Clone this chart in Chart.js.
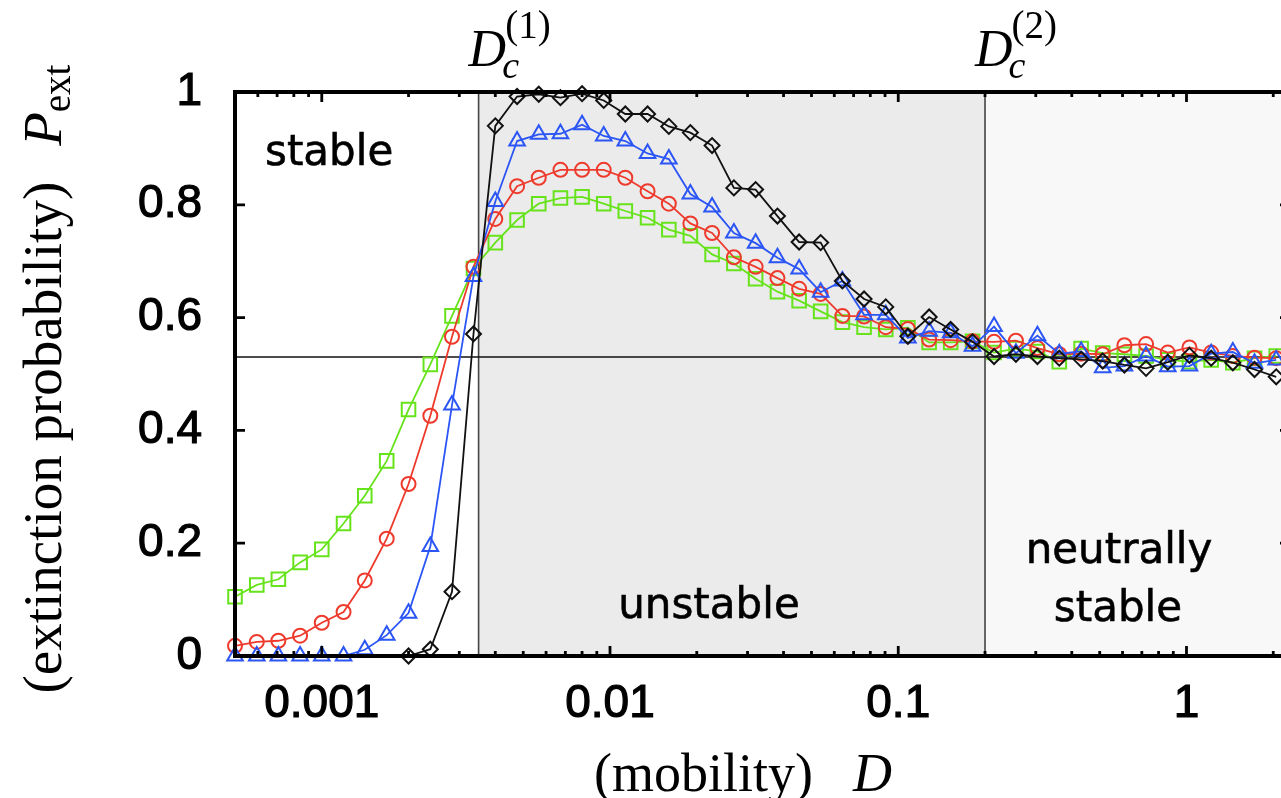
<!DOCTYPE html>
<html>
<head>
<meta charset="utf-8">
<title>Extinction probability vs mobility</title>
<script src="https://cdn.jsdelivr.net/npm/chart.js@4.4.1/dist/chart.umd.min.js"></script>
<style>
  html, body { margin: 0; padding: 0; background: #fff; overflow: hidden; }
  #wrap { width: 1300px; height: 798px; }
</style>
</head>
<body>
<div id="wrap"><canvas id="c" width="1300" height="798"></canvas></div>
<script>
// mobility D (log-spaced, factor 2^(1/4) between points)
const MOBILITY = [0.0005, 0.000595, 0.000707, 0.000841, 0.001, 0.00119, 0.00141, 0.00168,
  0.002, 0.00238, 0.00283, 0.00336, 0.004, 0.00476, 0.00566, 0.00673,
  0.008, 0.00951, 0.0113, 0.0135, 0.016, 0.019, 0.0226, 0.0269,
  0.032, 0.0381, 0.0453, 0.0538, 0.064, 0.0761, 0.0905, 0.108,
  0.128, 0.152, 0.181, 0.215, 0.256, 0.304, 0.362, 0.431,
  0.512, 0.609, 0.724, 0.861, 1.024, 1.218, 1.448, 1.722, 2.048];

// extinction probability P_ext, one array per curve
const P_GREEN = [0.105, 0.126, 0.136, 0.166, 0.189, 0.235, 0.284, 0.346, 0.437, 0.517,
  0.603, 0.687, 0.733, 0.773, 0.802, 0.812, 0.814, 0.802, 0.789, 0.777,
  0.756, 0.745, 0.712, 0.696, 0.669, 0.646, 0.630, 0.611, 0.592, 0.583,
  0.579, 0.582, 0.556, 0.556, 0.558, 0.538, 0.545, 0.540, 0.522, 0.545,
  0.537, 0.535, 0.532, 0.525, 0.522, 0.525, 0.520, 0.528, 0.532];

const P_RED = [0.018, 0.025, 0.027, 0.036, 0.059, 0.078, 0.134, 0.208, 0.305, 0.426,
  0.566, 0.690, 0.775, 0.833, 0.848, 0.862, 0.862, 0.862, 0.848, 0.824,
  0.802, 0.767, 0.750, 0.707, 0.690, 0.670, 0.651, 0.642, 0.603, 0.602,
  0.583, 0.580, 0.561, 0.560, 0.558, 0.557, 0.559, 0.546, 0.535, 0.536,
  0.535, 0.551, 0.553, 0.538, 0.547, 0.538, 0.532, 0.529, 0.528];

const P_BLUE = [0, 0, 0, 0, 0, 0, 0.011, 0.037, 0.076, 0.194,
  0.445, 0.673, 0.806, 0.913, 0.925, 0.926, 0.942, 0.922, 0.913, 0.891,
  0.881, 0.819, 0.796, 0.750, 0.732, 0.706, 0.686, 0.645, 0.665, 0.605,
  0.605, 0.564, 0.576, 0.573, 0.549, 0.584, 0.537, 0.568, 0.536, 0.540,
  0.511, 0.514, 0.532, 0.513, 0.514, 0.536, 0.539, 0.519, 0.525];

const P_BLACK = [null, null, null, null, null, null, null, null, 0.0, 0.012,
  0.114, 0.571, 0.940, 0.992, 0.996, 0.990, 0.997, 0.985, 0.961, 0.961,
  0.939, 0.928, 0.905, 0.830, 0.827, 0.780, 0.734, 0.733, 0.665, 0.633,
  0.619, 0.567, 0.601, 0.579, 0.557, 0.531, 0.535, 0.531, 0.528, 0.526,
  0.523, 0.516, 0.510, 0.521, 0.533, 0.528, 0.520, 0.508, 0.495];

// axes
const X_MIN = 0.0005, X_MAX = 2.25;
const X_TICKS = [0.001, 0.01, 0.1, 1];
const Y_TICKS = [0, 0.2, 0.4, 0.6, 0.8, 1];

// critical mobilities and the neutral level
const DC1 = 0.0035, DC2 = 0.2, P_STAR = 0.53;

function series(values, color, style, radius, order) {
  return {
    data: MOBILITY.map((d, i) => ({ x: d, y: values[i] })),
    borderColor: color,
    backgroundColor: 'rgba(0,0,0,0)',
    borderWidth: 1.8,
    pointStyle: style,
    pointRadius: radius,
    pointBorderColor: color,
    pointBackgroundColor: 'rgba(0,0,0,0)',
    pointBorderWidth: 2,
    tension: 0,
    spanGaps: false,
    clip: false,
    order: order
  };
}

// draws a run of differently styled text pieces on one baseline
function drawRich(ctx, parts, cx, baseY) {
  let total = 0;
  for (const p of parts) { ctx.font = p.font; p.w = p.gap != null ? p.gap : ctx.measureText(p.text).width; total += p.w; }
  let x = cx - total / 2;
  for (const p of parts) {
    if (p.text) { ctx.font = p.font; ctx.fillText(p.text, x, baseY + (p.dy || 0)); }
    x += p.w;
  }
}

const SERIF = '"Liberation Serif", "DejaVu Serif", serif';

const decor = {
  id: 'decor',
  beforeDatasetsDraw(chart) {
    const { ctx, chartArea: a, scales: { x, y } } = chart;
    const x1 = x.getPixelForValue(DC1), x2 = x.getPixelForValue(DC2);
    ctx.save();
    ctx.fillStyle = '#ebebeb';
    ctx.fillRect(x1, a.top, x2 - x1, a.bottom - a.top);
    ctx.fillStyle = '#f8f8f8';
    ctx.fillRect(x2, a.top, a.right - x2, a.bottom - a.top);

    ctx.strokeStyle = '#444';
    ctx.lineWidth = 1.6;
    ctx.beginPath();
    ctx.moveTo(x1, a.top); ctx.lineTo(x1, a.bottom);
    ctx.moveTo(x2, a.top); ctx.lineTo(x2, a.bottom);
    ctx.stroke();

    const yp = y.getPixelForValue(P_STAR);
    ctx.strokeStyle = '#111';
    ctx.lineWidth = 1.5;
    ctx.beginPath();
    ctx.moveTo(a.left, yp); ctx.lineTo(a.right, yp);
    ctx.stroke();

    ctx.fillStyle = '#000';
    ctx.strokeStyle = '#000';
    ctx.lineWidth = 0.6;
    ctx.font = '42px "DejaVu Sans"';
    ctx.textBaseline = 'alphabetic';
    const label = (t, px, py) => { ctx.fillText(t, px, py); ctx.strokeText(t, px, py); };
    ctx.textAlign = 'left';
    label('stable', 265, 165);
    ctx.textAlign = 'center';
    label('unstable', 709, 618);
    label('neutrally', 1119, 563);
    label('stable', 1118, 621);
    ctx.restore();
  },
  afterDatasetsDraw(chart) {
    const { ctx, chartArea: a, scales: { x, y } } = chart;
    ctx.save();
    ctx.strokeStyle = '#000';
    ctx.lineWidth = 2.8;
    ctx.beginPath();
    for (const v of Y_TICKS) {
      const p = y.getPixelForValue(v);
      ctx.moveTo(a.left, p); ctx.lineTo(a.left + 10, p);
      ctx.moveTo(a.right, p); ctx.lineTo(a.right - 8, p);
    }
    for (const dec of [0.0001, 0.001, 0.01, 0.1, 1]) {
      for (let m = 1; m <= 9; m++) {
        const v = m * dec;
        if (v <= X_MIN * 1.0001 || v >= X_MAX) continue;
        const len = m === 1 ? 10 : 5;
        const p = x.getPixelForValue(v);
        ctx.moveTo(p, a.bottom); ctx.lineTo(p, a.bottom - len);
        ctx.moveTo(p, a.top); ctx.lineTo(p, a.top + len);
      }
    }
    ctx.stroke();
    ctx.lineWidth = 4;
    ctx.strokeRect(a.left, a.top, a.right - a.left, a.bottom - a.top);
    ctx.restore();
  },
  afterDraw(chart) {
    const { ctx, scales: { x } } = chart;
    ctx.save();
    ctx.fillStyle = '#000';
    ctx.textAlign = 'left';
    ctx.textBaseline = 'alphabetic';

    // x-axis title
    drawRich(ctx, [
      { text: '(mobility)', font: '54px ' + SERIF },
      { gap: 40 },
      { text: 'D', font: 'italic 54px ' + SERIF }
    ], 743, 791);

    // y-axis title
    ctx.save();
    ctx.translate(61, 379);
    ctx.rotate(-Math.PI / 2);
    drawRich(ctx, [
      { text: '(extinction probability)', font: '55px ' + SERIF },
      { gap: 36 },
      { text: 'P', font: 'italic 55px ' + SERIF },
      { text: 'ext', font: '39px ' + SERIF, dy: 9 }
    ], 0, 0);
    ctx.restore();

    // critical mobility labels above the frame
    for (const [val, sup] of [[DC1, '(1)'], [DC2, '(2)']]) {
      const px = x.getPixelForValue(val) - 10;
      ctx.font = 'italic 52px ' + SERIF;
      ctx.fillText('D', px, 66);
      const dw = ctx.measureText('D').width;
      ctx.font = 'italic 38px ' + SERIF;
      ctx.fillText('c', px + dw - 4, 78);
      ctx.font = '39px ' + SERIF;
      ctx.fillText(sup, px + dw - 1, 38);
    }
    ctx.restore();
  }
};

const TICK_FONT = { family: '"Liberation Sans", Arial, sans-serif', size: 46 };

new Chart(document.getElementById('c'), {
  type: 'line',
  data: {
    datasets: [
      series(P_BLACK, '#111111', 'rectRot', 7.5, 0),
      series(P_BLUE, '#2b55f5', 'triangle', 9, 1),
      series(P_RED, '#ee3a2c', 'circle', 7, 2),
      series(P_GREEN, '#66e31a', 'rect', 9.6, 3)
    ]
  },
  options: {
    responsive: false,
    animation: false,
    devicePixelRatio: 1,
    layout: { padding: { left: 0, right: 12, top: 92, bottom: 0 } },
    plugins: { legend: { display: false }, tooltip: { enabled: false } },
    scales: {
      x: {
        type: 'logarithmic',
        min: X_MIN,
        max: X_MAX,
        grid: { display: false, drawTicks: false },
        border: { display: false },
        afterBuildTicks: s => { s.ticks = X_TICKS.map(v => ({ value: v })); },
        afterFit: s => { s.height = 798 - 656; },
        ticks: {
          font: TICK_FONT, color: '#000', padding: 21,
          textStrokeColor: '#000', textStrokeWidth: 1.2,
          maxRotation: 0, autoSkip: false,
          callback: v => String(v)
        }
      },
      y: {
        type: 'linear',
        min: 0,
        max: 1,
        grid: { display: false, drawTicks: false },
        border: { display: false },
        afterBuildTicks: s => { s.ticks = Y_TICKS.map(v => ({ value: v })); },
        afterFit: s => { s.width = 235; },
        ticks: {
          font: TICK_FONT, color: '#000', padding: 33,
          textStrokeColor: '#000', textStrokeWidth: 1.2,
          callback: v => String(Math.round(v * 10) / 10)
        }
      }
    }
  },
  plugins: [decor]
});
</script>
</body>
</html>
